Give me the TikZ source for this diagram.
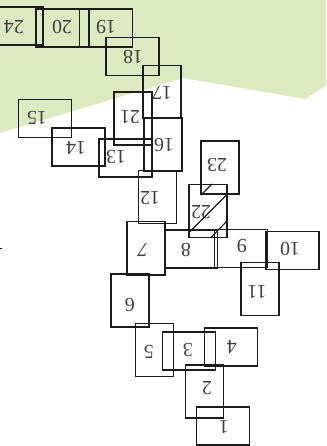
\documentclass[tikz,border=0pt]{standalone}
\usepackage{fontspec}
\setmainfont{Liberation Serif}
\usepackage{xcolor}
\definecolor{bggreen}{HTML}{DDE9C0}
\definecolor{boxline}{HTML}{1C1C1C}
\usetikzlibrary{positioning}

\begin{document}
\begin{tikzpicture}[x=0.03cm, y=-0.03cm,
  wide/.style={draw=boxline, rectangle, minimum width=1.59cm,
               minimum height=1.14cm, inner sep=0pt, outer sep=0pt,
               line width=1.1pt},
  tall/.style={wide, minimum width=1.14cm, minimum height=1.59cm},
  num/.style={rotate=180, inner sep=0pt, text=boxline!85,
              font=\fontsize{17}{17}\selectfont},
  hatch/.style={draw=boxline, line width=1pt}
]
\useasboundingbox (0,0) rectangle (326,446);

%% green zone
\fill[bggreen] (0,0) -- (326,0) -- (326,86) -- (305,99) -- (183,78)
  -- (0,133) -- cycle;

%% wide boxes
\foreach \n/\x/\y in {24/16.5/26, 20/62.5/28, 19/106/28, 18/132.5/56.5,
    15/45/118.5, 14/78.5/147, 13/125.5/158, 8/191/249, 9/241/248.5,
    10/292.5/250.5, 3/189/351, 4/231/347, 1/223/426}
  \node[wide] (b\n) at (\x,\y) {};

%% tall boxes
\foreach \n/\x/\y in {17/162/92, 21/133/118.5, 16/163/144.5, 23/220/167.5,
    12/157.5/197, 22/208/211, 11/260/289, 6/130/300.5, 5/154.5/350,
    2/204.5/391.5}
  \node[tall] (b\n) at (\x,\y) {};
\node[tall, line width=1.7pt] (b7) at (146,248) {};

%% hatching in 22
\draw[hatch] (201,195) -- (212,184);
\draw[hatch] (189.5,232) -- (227,194.5);
\draw[hatch] (211,237.5) -- (227,221);

%% numbers
\foreach \n/\x/\y in {24/14/27, 20/62/27, 19/106/27, 18/133/57, 17/162/93,
    21/130/117, 16/164/145, 15/37/118, 14/76/148, 13/116/157, 23/217/165,
    12/150/198, 22/201/212, 8/186/250, 9/242/246, 10/290/249,
    11/257/292, 6/130/305, 5/149/352, 3/188/350, 4/232/347, 2/207/388,
    1/224/427}
  \node[num] (n\n) at (\x,\y) {\n};
\node[num, font=\fontsize{17}{17}\selectfont\itshape] (n7) at (143,250) {7};

\draw[line width=1.2pt] (0,248.5) -- (2,248.5);
\end{tikzpicture}
\end{document}
